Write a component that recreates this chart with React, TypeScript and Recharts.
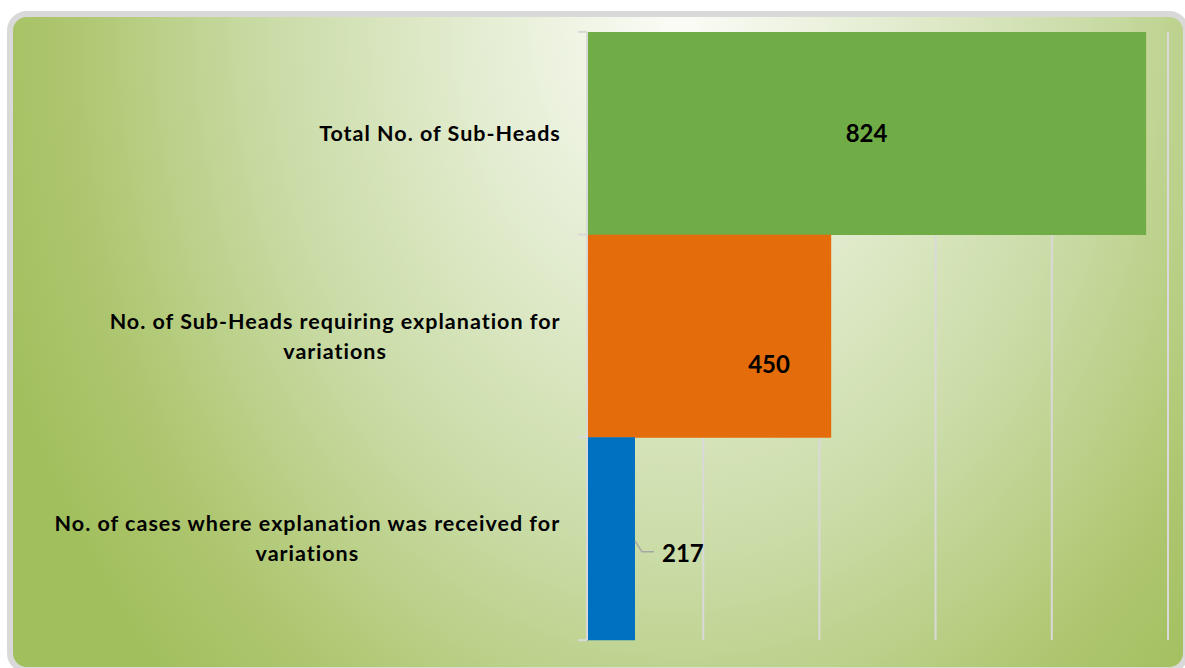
import React from "react";
import { BarChart, Bar, XAxis, YAxis, CartesianGrid, Cell, LabelList } from "recharts";

// values
const categories = [
  "Total No. of Sub-Heads",
  "No. of Sub-Heads requiring explanation for variations",
  "No. of cases where explanation was received for variations",
];
const counts = [824, 450, 217];
const barColors = ["#70ad47", "#e46c0a", "#0070c0"];
const axisTicks = [160, 298, 436, 574, 712, 850];

const data = categories.map((name, i) => ({ name, count: counts[i] }));

const WIDTH = 1185;
const HEIGHT = 668;
const MARGIN = { top: 32, right: 17, bottom: 27, left: 0 };
const Y_AXIS_WIDTH = 587;
const TICK_MARGIN = 26;
const GRID = "#d9d9d9";
const FONT = "Lato, 'Open Sans', sans-serif";
const TICK_SIZE = 21.5;
const TICK_SPACING = 1;
const BAND = (HEIGHT - MARGIN.top - MARGIN.bottom) / categories.length;

let ctx: CanvasRenderingContext2D | null = null;
function measure(text: string) {
  if (!ctx) ctx = document.createElement("canvas").getContext("2d");
  if (!ctx) return text.length * 11;
  ctx.font = `bold ${TICK_SIZE}px Lato`;
  return ctx.measureText(text).width + text.length * TICK_SPACING;
}

function wrap(text: string, maxWidth: number) {
  const lines: string[] = [];
  let cur = "";
  for (const w of text.split(" ")) {
    const next = cur ? cur + " " + w : w;
    if (cur && measure(next) > maxWidth) {
      lines.push(cur);
      cur = w;
    } else {
      cur = next;
    }
  }
  if (cur) lines.push(cur);
  return lines;
}

function CategoryTick(props: any) {
  const { x, y, payload, index } = props;
  const lines = wrap(String(payload.value), 530);
  const blockWidth = Math.max(...lines.map((l) => measure(l)));
  const cx = x - blockWidth / 2;
  const axisX = x + TICK_MARGIN;
  const lineH = 30;
  return (
    <g>
      <line x1={axisX - 9} x2={axisX} y1={y - BAND / 2} y2={y - BAND / 2} stroke={GRID} strokeWidth={2} />
      {index === categories.length - 1 && (
        <line x1={axisX - 9} x2={axisX} y1={y + BAND / 2} y2={y + BAND / 2} stroke={GRID} strokeWidth={2} />
      )}
      <text
        textAnchor="middle"
        fontFamily={FONT}
        fontWeight={700}
        fontSize={TICK_SIZE}
        letterSpacing={TICK_SPACING}
        fill="#000"
      >
        {lines.map((l, i) => (
          <tspan key={i} x={cx} y={y + 7.5 + (i - (lines.length - 1) / 2) * lineH}>
            {l}
          </tspan>
        ))}
      </text>
    </g>
  );
}

function ValueLabel(props: any) {
  const vb = props.viewBox ?? props;
  const { x, y, width, height } = vb;
  const { value, index } = props;
  const cy = y + height / 2;
  const style = { fontFamily: FONT, fontWeight: 700, fontSize: 24, fill: "#000" } as const;
  if (index === 2) {
    const ex = x + width;
    return (
      <g>
        <polyline
          points={`${ex},${cy + 2} ${ex + 7},${cy + 13} ${ex + 19},${cy + 13}`}
          fill="none"
          stroke="#a6a6a6"
          strokeWidth={1.5}
        />
        <text x={ex + 27} y={cy + 23} textAnchor="start" {...style}>
          {value}
        </text>
      </g>
    );
  }
  const dx = index === 1 ? 60 : 0;
  const dy = index === 1 ? 28 : 0;
  return (
    <text x={x + width / 2 + dx} y={cy + dy + 8.5} textAnchor="middle" {...style}>
      {value}
    </text>
  );
}

export default function App() {
  return (
    <div style={{ position: "fixed", left: 0, top: 0, width: WIDTH, height: HEIGHT, overflow: "hidden", background: "#fff" }}>
      <div
        style={{
          position: "absolute",
          left: 7,
          top: 11,
          width: 1182,
          height: 662,
          boxSizing: "border-box",
          border: "6px solid #d9d9d9",
          borderRadius: 20,
          background:
            "radial-gradient(ellipse 720px 950px at 667px 0px, #fbfcf7 0%, #e4edd2 28%, #c9dba5 58%, #aec66f 85%, #a2bf5e 100%)",
        }}
      />
      <div style={{ position: "absolute", left: 0, top: 0 }}>
        <BarChart
          width={WIDTH}
          height={HEIGHT}
          data={data}
          layout="vertical"
          margin={MARGIN}
          barCategoryGap={0}
        >
          <CartesianGrid horizontal={false} stroke={GRID} strokeWidth={2} />
          <XAxis
            type="number"
            domain={[axisTicks[0], axisTicks[axisTicks.length - 1]]}
            ticks={axisTicks}
            interval={0}
            allowDataOverflow
            axisLine={false}
            tickLine={false}
            tick={{ fill: "transparent", fontSize: 1 }}
            height={1}
          />
          <YAxis
            type="category"
            dataKey="name"
            width={Y_AXIS_WIDTH}
            axisLine={{ stroke: GRID, strokeWidth: 2 }}
            tickLine={false}
            tickSize={0}
            tickMargin={TICK_MARGIN}
            tick={<CategoryTick />}
            interval={0}
          />
          <Bar dataKey="count" isAnimationActive={false}>
            {data.map((d, i) => (
              <Cell key={d.name} fill={barColors[i]} />
            ))}
            <LabelList dataKey="count" content={<ValueLabel />} />
          </Bar>
        </BarChart>
      </div>
    </div>
  );
}
